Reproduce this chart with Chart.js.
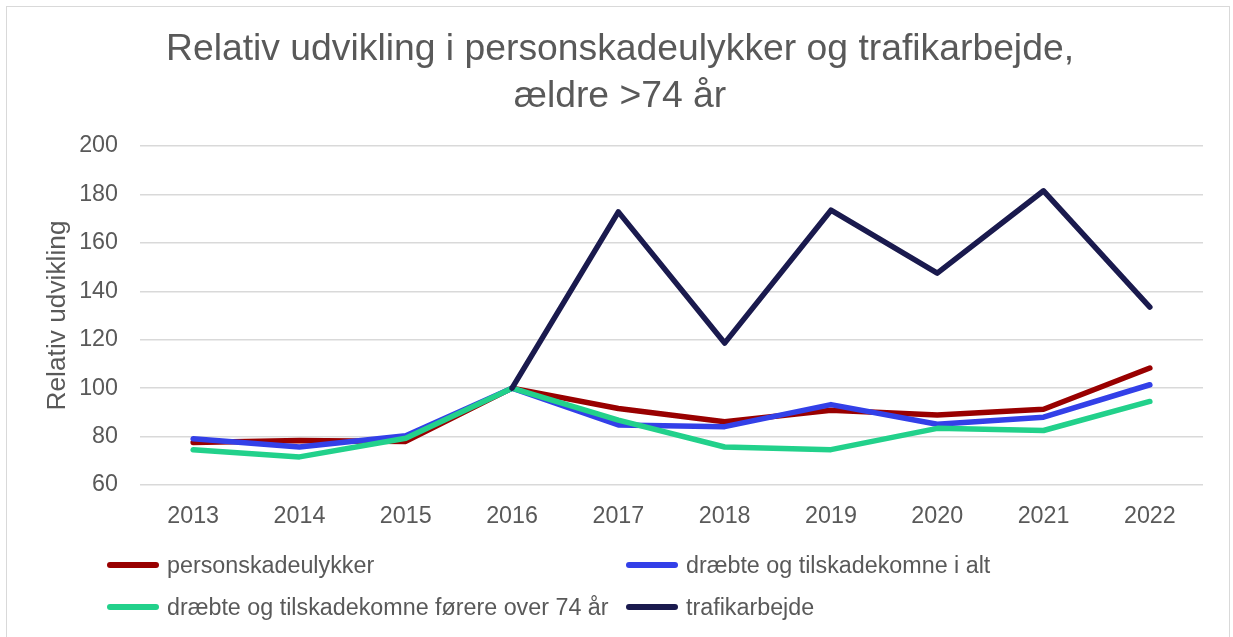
<!DOCTYPE html>
<html>
<head>
<meta charset="utf-8">
<script src="https://cdn.jsdelivr.net/npm/chart.js@4"></script>
<style>
  html, body { margin: 0; padding: 0; background: #fff; }
  body { width: 1233px; height: 637px; position: relative; overflow: hidden; font-family: "Liberation Sans", Arial, sans-serif; }
  #frame { position: absolute; left: 6px; top: 6px; width: 1224px; height: 660px; border: 1.5px solid #d9d9d9; box-sizing: border-box; }
  #wrap { position: absolute; left: 0; top: 0; width: 1233px; height: 637px; }
  #title { position: absolute; left: 0; top: 24px; width: 1240px; text-align: center; color: #595959; font-size: 37.3px; line-height: 47px; }
  .leg { position: absolute; display: flex; align-items: center; color: #595959; font-size: 23.3px; white-space: nowrap; }
  .sw { width: 52px; height: 6px; border-radius: 3px; margin-right: 8px; }
</style>
</head>
<body>
<div id="frame"></div>
<div id="wrap"><canvas id="c" width="1233" height="637"></canvas></div>
<div id="title">Relativ udvikling i personskadeulykker og trafikarbejde,<br>ældre &gt;74 år</div>
<div id="legend"></div>
<script>
const categories = ['2013','2014','2015','2016','2017','2018','2019','2020','2021','2022'];
const personskadeulykker = [77.6, 78.4, 78.0, 100, 91.6, 86.1, 90.9, 88.9, 91.3, 108.3];
const draebteIAlt = [79.1, 75.7, 80.3, 100, 84.8, 84.1, 93.2, 85.1, 88.0, 101.4];
const draebteFoerere74 = [74.6, 71.6, 79.3, 100, 86.8, 75.7, 74.6, 83.4, 82.5, 94.5];
const trafikarbejde = [null, null, null, 100, 172.8, 118.6, 173.5, 147.5, 181.5, 133.5];
const seriesNames = ['personskadeulykker', 'dræbte og tilskadekomne i alt', 'dræbte og tilskadekomne førere over 74 år', 'trafikarbejde'];
const seriesColors = ['#990000', '#3340e8', '#22d18b', '#1a1a4e'];
const yTicks = [60, 80, 100, 120, 140, 160, 180, 200];

const seriesData = [personskadeulykker, draebteIAlt, draebteFoerere74, trafikarbejde];
const datasets = seriesData.map((d, i) => ({
  label: seriesNames[i],
  data: d,
  borderColor: seriesColors[i],
  backgroundColor: seriesColors[i],
  borderWidth: 5.5,
  borderCapStyle: 'round',
  borderJoinStyle: 'round',
  pointRadius: 0,
  tension: 0,
  spanGaps: false,
  order: 4 - i
}));

const font = { family: '"Liberation Sans", Arial, sans-serif' };
new Chart(document.getElementById('c'), {
  type: 'line',
  data: { labels: categories, datasets },
  options: {
    responsive: false,
    animation: false,
    layout: { padding: { top: 146, right: 30, left: 0, bottom: 0 } },
    plugins: { legend: { display: false }, title: { display: false }, tooltip: { enabled: false } },
    scales: {
      x: {
        offset: true,
        grid: { display: false },
        border: { display: false },
        ticks: { color: '#595959', font: { ...font, size: 23.3 }, padding: 10, maxRotation: 0 },
        afterFit: s => { s.height = 152; }
      },
      y: {
        min: yTicks[0], max: yTicks[yTicks.length - 1],
        afterBuildTicks: s => { s.ticks = yTicks.map(v => ({ value: v })); },
        grid: { color: '#d9d9d9', lineWidth: 1.5, drawTicks: false },
        border: { display: false },
        ticks: { color: '#595959', font: { ...font, size: 23.3 }, padding: 22 },
        title: { display: true, text: 'Relativ udvikling', color: '#595959', font: { ...font, size: 26.3 }, padding: { top: 42, bottom: 0 } },
        afterFit: s => { s.width = 140; }
      }
    }
  }
});

const legendPos = [[107, 565], [626, 565], [107, 607], [626, 607]];
const leg = document.getElementById('legend');
seriesNames.forEach((n, i) => {
  const d = document.createElement('div');
  d.className = 'leg';
  d.style.left = legendPos[i][0] + 'px';
  d.style.top = (legendPos[i][1] - 14) + 'px';
  d.style.height = '28px';
  const sw = document.createElement('div');
  sw.className = 'sw';
  sw.style.background = seriesColors[i];
  d.appendChild(sw);
  const t = document.createElement('span');
  t.textContent = n;
  d.appendChild(t);
  leg.appendChild(d);
});
</script>
</body>
</html>
